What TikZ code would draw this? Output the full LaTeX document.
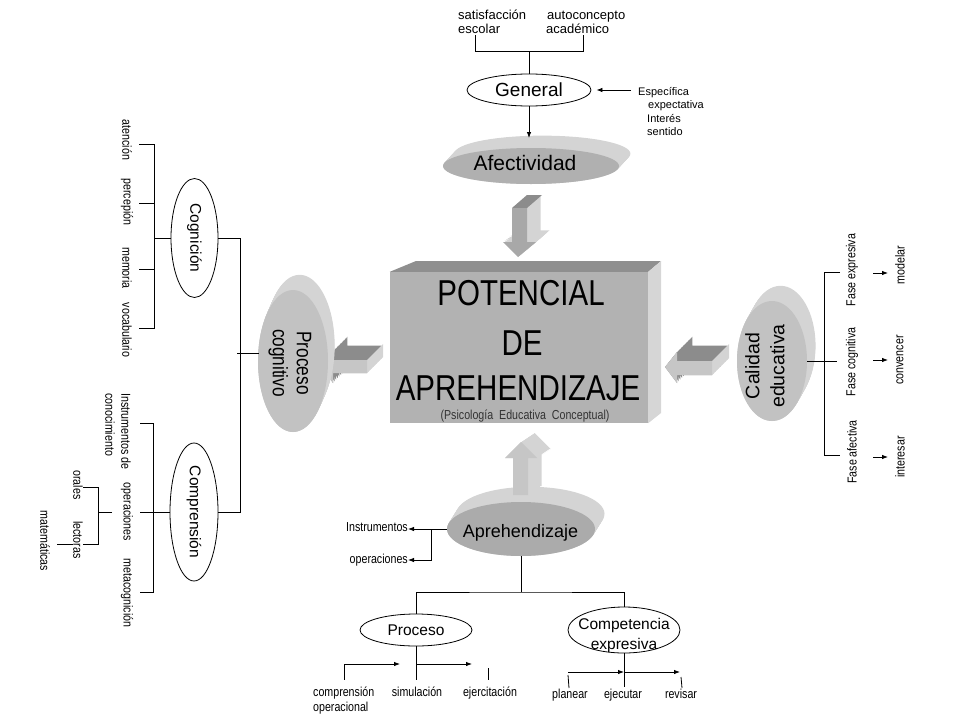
\documentclass[tikz,border=0pt]{standalone}
\usepackage{fontspec}
\setmainfont{Liberation Sans}
\newfontfamily\narrowfont[FakeStretch=0.82]{Liberation Sans}
\usetikzlibrary{shapes.geometric,arrows.meta}
\definecolor{rimgray}{HTML}{D4D4D4}
\definecolor{facegray}{HTML}{B0B0B0}
\definecolor{facelight}{HTML}{C2C2C2}
\definecolor{facedark}{HTML}{ABABAB}
\definecolor{boxfront}{HTML}{B2B2B2}
\definecolor{boxtop}{HTML}{8F8F8F}
\definecolor{boxside}{HTML}{D6D6D6}
\definecolor{arrdark}{HTML}{8C8C8C}
\definecolor{arrmid}{HTML}{A8A8A8}
\definecolor{arrlight}{HTML}{C6C6C6}
\definecolor{arrpale}{HTML}{D4D4D4}
\begin{document}
\begin{tikzpicture}[x=1pt,y=-1pt,
  ln/.style={line width=0.8pt},
  arr/.style={line width=0.8pt,-{Latex[length=6pt,width=4.5pt]}},
  oval/.style={ellipse,draw,line width=0.8pt,inner sep=0pt,fill=white},
  lab/.style={font=\narrowfont\fontsize{13}{16}\selectfont,inner sep=0pt},
  tlab/.style={font=\fontsize{13}{14}\selectfont,inner sep=0pt},
  slab/.style={font=\fontsize{11}{13}\selectfont,inner sep=0pt},
  elab/.style={font=\fontsize{15.5}{20}\selectfont,inner sep=0pt},
  disc/.style={ellipse,inner sep=0pt}]
\useasboundingbox (0,0) rectangle (960,720);

% ---------- top: General ----------
\node[tlab,anchor=base west] (sat) at (458,19) {satisfacción};
\node[tlab,anchor=base west] (esc) at (458,33) {escolar};
\node[tlab,anchor=base west] (auto) at (547,19) {autoconcepto};
\node[tlab,anchor=base west] (acad) at (546,33) {académico};
\node[oval,minimum width=124pt,minimum height=32pt,font=\fontsize{19}{22}\selectfont] (gen) at (529,90) {General};
\coordinate (brL) at (475,51);
\coordinate (brR) at (583,51);
\coordinate (brM) at (529,51);
\draw[ln] (475,35) -- (brL) -- (brR) -- (583,35);
\draw[ln] (brM) -- (gen.north);
\node[slab,anchor=base west] (esp1) at (638,95) {Específica};
\node[slab,anchor=base west] (esp2) at (648,108.5) {expectativa};
\node[slab,anchor=base west] (esp3) at (647,122) {Interés};
\node[slab,anchor=base west] (esp4) at (647,135.5) {sentido};
\coordinate (espa) at (631,90);
\draw[arr] (espa) -- ([xshift=5pt]gen.east);

% ---------- Afectividad disc ----------
\foreach \t in {0,0.05,...,1} {\fill[rimgray] (531+12*\t,166-13*\t) ellipse [x radius=88pt,y radius=18pt];}
\node[disc,fill=facegray,minimum width=176pt,minimum height=36pt] (afe) at (531,166) {};
\node[font=\fontsize{21}{24}\selectfont,inner sep=0pt,anchor=base] (afet) at (525,170) {Afectividad};
\coordinate (afetop) at (529,138);
\draw[arr] (gen.south) -- (afetop);

% ---------- central box ----------
\node[fill=boxfront,minimum width=258pt,minimum height=151pt,inner sep=0pt] (box) at (519,347.5) {};
\fill[boxtop] (box.north west) -- (416,261) -- (661,261) -- (box.north east) -- cycle;
\fill[boxside] (box.north east) -- (661,261) -- (661,413) -- (box.south east) -- cycle;
\node[font=\narrowfont\fontsize{36}{40}\selectfont,inner sep=0pt,anchor=base] (pot) at (521,305) {POTENCIAL};
\node[font=\narrowfont\fontsize{36}{40}\selectfont,inner sep=0pt,anchor=base] (de) at (522,355) {DE};
\node[font=\narrowfont\fontsize{36}{40}\selectfont,inner sep=0pt,anchor=base] (apre) at (518,400) {APREHENDIZAJE};
\node[lab,anchor=base,text=black!80] (psi) at (525,419) {(Psicología\ \ Educativa\ \ Conceptual)};

% ---------- down arrow ----------
\foreach \t in {0,0.1,...,1} {\fill[arrpale,shift={(15*\t,-13*\t)}] (512,208) -- (527,208) -- (527,242) -- (536,242) -- (518,257) -- (503,242) -- (512,242) -- cycle;}
\fill[arrdark] (512,208) -- (527,208) -- (542,195) -- (527,195) -- cycle;
\fill[arrmid] (512,208) -- (527,208) -- (527,242) -- (536,242) -- (518,257) -- (503,242) -- (512,242) -- cycle;

% ---------- left arrow ----------
\foreach \t in {0,0.1,...,1} {\fill[arrdark,shift={(16*\t,-16*\t)}] (322,367) -- (333,351) -- (333,360) -- (367,360) -- (367,373) -- (333,373) -- (333,383) -- cycle;}
\fill[arrpale] (367,360) -- (383,344) -- (383,357) -- (367,373) -- cycle;
\fill[arrlight] (322,367) -- (333,351) -- (333,360) -- (367,360) -- (367,373) -- (333,373) -- (333,383) -- cycle;

% ---------- right arrow ----------
\foreach \t in {0,0.1,...,1} {\fill[arrdark,shift={(17*\t,-17*\t)}] (665,367) -- (677,352) -- (677,361) -- (712,361) -- (712,375) -- (677,375) -- (677,383) -- cycle;}
\fill[arrpale] (712,361) -- (729,344) -- (729,358) -- (712,375) -- cycle;
\fill[arrlight] (665,367) -- (677,352) -- (677,361) -- (712,361) -- (712,375) -- (677,375) -- (677,383) -- cycle;

% ---------- Proceso cognitivo disc ----------
\foreach \t in {0,0.05,...,1} {\fill[rimgray] (293+7*\t,361-16*\t) ellipse [x radius=35pt,y radius=71pt];}
\node[disc,fill=facelight,minimum width=70pt,minimum height=142pt] (pcog) at (293,361) {};
\node[rotate=-90,align=center,inner sep=0pt,font=\narrowfont\fontsize{21}{24}\selectfont] (pcogt) at (290,363) {Proceso\\cognitivo};

% ---------- Calidad educativa disc ----------
\foreach \t in {0,0.05,...,1} {\fill[rimgray] (772+9*\t,361-16*\t) ellipse [x radius=35pt,y radius=60pt];}
\node[disc,fill=facelight,minimum width=70pt,minimum height=120pt] (cal) at (772,361) {};
\node[rotate=90,align=center,inner sep=0pt,font=\fontsize{19.5}{25}\selectfont] (calt) at (765,366) {Calidad\\educativa};

% right branches
\draw[ln] (cal.east) -- ++(30,0);
\draw[ln] (840,272) -- (824,272) -- (824,455) -- (840,455);
\node[lab,rotate=90] (fexp) at (852,270) {Fase expresiva};
\node[lab,rotate=90] (fcog) at (852,362) {Fase cognitiva};
\node[lab,rotate=90] (fafe) at (852,452) {Fase afectiva};
\node[lab,rotate=90] (mod) at (900,265) {modelar};
\node[lab,rotate=90] (conv) at (900,360) {convencer};
\node[lab,rotate=90] (inte) at (900,457) {interesar};
\draw[arr] (873,273) -- (888,273);
\draw[arr] (873,360) -- (888,360);
\draw[arr] (873,457) -- (888,457);

% ---------- left side: Cognición / Comprensión ----------
\node[oval,minimum width=47pt,minimum height=119pt] (cog) at (194.5,238) {};
\node[elab,rotate=-90] (cogt) at (cog) {Cognición};
\node[oval,minimum width=48pt,minimum height=138pt] (cmp) at (194,512) {};
\node[elab,rotate=-90] (cmpt) at (cmp) {Comprensión};
\coordinate (busT) at (240,238);
\coordinate (busB) at (240,512);
\draw[ln] (cog.east) -- (busT) -- (busB) -- (cmp.east);
\draw[ln] (237,353) -- (258.5,353);

\draw[ln] (139,144) -- (154,144) -- (154,328) -- (139,328);
\draw[ln] (139,203) -- (154,203);
\draw[ln] (139,269) -- (154,269);
\draw[ln] (154,238) -- (cog.west);
\node[lab,rotate=-90] (aten) at (127,140) {atención};
\node[lab,rotate=-90] (perc) at (127,202) {percepión};
\node[lab,rotate=-90] (memo) at (127,268) {memoria};
\node[lab,rotate=-90] (voca) at (127,330) {vocabulario};

\draw[ln] (140,423) -- (153,423) -- (153,592) -- (140,592);
\draw[ln] (140,512) -- (cmp.west);
\node[lab,rotate=-90,align=left,anchor=west] (inst) at (118,393) {Instrumentos de\\conocimiento};
\node[lab,rotate=-90] (oper) at (127,512) {operaciones};
\node[lab,rotate=-90] (meta) at (127,593) {metacognición};
\draw[ln] (112,512) -- (98,512);
\draw[ln] (83,487) -- (98,487) -- (98,544) -- (83,544);
\draw[ln] (73,544) -- (57,544);
\node[lab,rotate=-90] (oral) at (78,485) {orales};
\node[lab,rotate=-90] (lect) at (78,540) {lectoras};
\node[lab,rotate=-90] (mate) at (45,541) {matemáticas};

% ---------- Aprehendizaje disc ----------
\foreach \t in {0,0.05,...,1} {\fill[rimgray] (521+10*\t,529-16*\t) ellipse [x radius=74pt,y radius=27pt];}
\node[disc,fill=facedark,minimum width=148pt,minimum height=54pt] (apr) at (521,529) {};
\node[font=\fontsize{18}{20}\selectfont,inner sep=0pt,anchor=base] (aprt) at (520.5,537) {Aprehendizaje};

% ---------- up arrow ----------
\foreach \t in {0,0.1,...,1} {\fill[arrpale,shift={(15*\t,-10*\t)}] (513,495) -- (528,495) -- (528,458) -- (537,458) -- (521,442) -- (505,458) -- (513,458) -- cycle;}
\fill[arrlight] (513,495) -- (528,495) -- (528,458) -- (537,458) -- (521,442) -- (505,458) -- (513,458) -- cycle;

% Aprehendizaje branches
\node[lab,anchor=east] (ins) at (408,527) {Instrumentos};
\node[lab,anchor=east] (ope) at (408,560) {operaciones};
\draw[arr] (apr.west) -- (apr.west -| ins.east);
\draw[arr] (431,529) |- (ope.east);

\node[oval,minimum width=112pt,minimum height=32pt,elab] (proc) at (416,630) {Proceso};
\node[oval,minimum width=112pt,minimum height=46pt] (comp) at (624,630) {};
\node[elab,align=center] (compt) at (624,635) {Competencia\\expresiva};
\coordinate (j) at (521,592);
\draw[ln] (apr.south) -- (j);
\draw[ln] (proc.north) |- (j) -| (comp.north);

% Proceso subtree
\draw[ln] (proc.south) -- (416,680);
\draw[arr] (416,664) -- (472,664);
\draw[arr] (344,664) -- (400,664);
\draw[ln] (344,664) -- (344,680);
\draw[ln] (488,668) -- (488,680);
\node[lab,anchor=base west] (compr1) at (313,696) {comprensión};
\node[lab,anchor=base west] (compr2) at (313,711) {operacional};
\node[lab,anchor=base] (simu) at (417,696) {simulación};
\node[lab,anchor=base] (ejer) at (490,696) {ejercitación};

% Competencia subtree
\draw[ln] (comp.south) -- (624,687);
\draw[arr] (568,672) -- (624,672);
\draw[arr] (624,672) -- (680,672);
\draw[ln] (568,675) -- (569,688);
\draw[ln] (681,677) -- (682,688);
\node[lab,anchor=base] (plan) at (570,698) {planear};
\node[lab,anchor=base] (ejec) at (623,698) {ejecutar};
\node[lab,anchor=base] (revi) at (681,698) {revisar};
\end{tikzpicture}
\end{document}
